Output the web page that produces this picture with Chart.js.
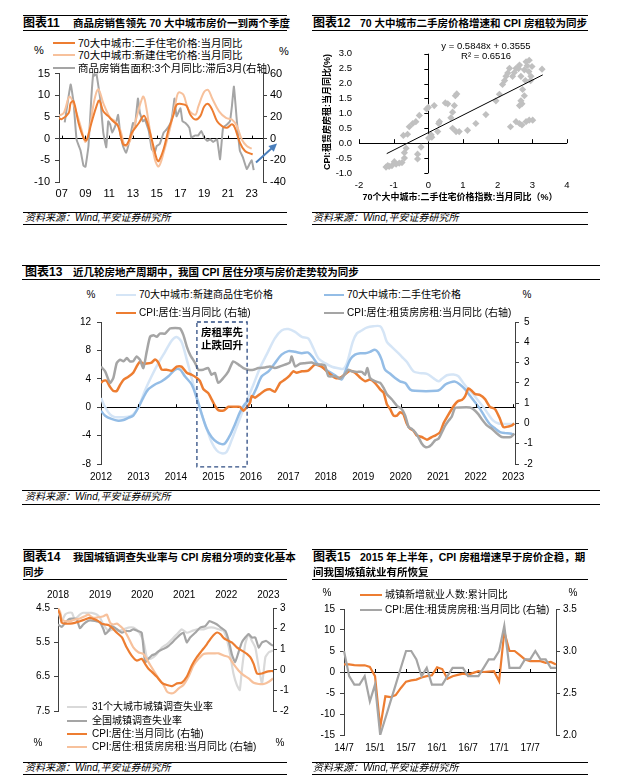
<!DOCTYPE html>
<html><head><meta charset="utf-8">
<script src="https://cdn.jsdelivr.net/npm/chart.js@4.4.1/dist/chart.umd.min.js"></script>
<style>
html,body{margin:0;padding:0;background:#fff}
body{position:relative;width:627px;height:782px;overflow:hidden;font-family:'Liberation Sans','Noto Sans CJK SC',sans-serif;color:#000}
canvas{position:absolute}
</style></head><body>
<script>
// ================= DATA =================
// Panel 11 (x = year-month, left axis % ; sales on right axis %)
const p11TickYears = [2007,2009,2011,2013,2015,2017,2019,2021,2023];
const p11TickLabels = ['07','09','11','13','15','17','19','21','23'];
const p11Names = ['70大中城市:二手住宅价格:当月同比','70大中城市:新建住宅价格:当月同比','商品房销售面积:3个月同比:滞后3月(右轴)'];
const p11Used = [['2006-10',4.8],['2007-01',4.5],['2007-08',5.9],['2007-10',8.2],['2008-01',8.6],['2008-06',3.6],['2008-11',0.2],['2009-02',-0.4],['2009-07',3.6],['2009-12',7.4],['2010-03',8.8],['2010-07',6.3],['2010-12',5.2],['2011-05',4.0],['2011-10',2.9],['2012-03',-1.3],['2012-07',-1.3],['2012-12',1.4],['2013-07',3.6],['2013-12',5.3],['2014-03',4.0],['2014-08',-0.2],['2015-01',-4.7],['2015-03',-5.2],['2015-08',-2.4],['2016-01',2.1],['2016-06',5.5],['2016-09',7.8],['2017-02',8.0],['2017-07',7.6],['2017-11',5.5],['2018-04',4.4],['2018-09',5.2],['2019-01',7.4],['2019-05',8.0],['2019-09',6.7],['2020-02',4.0],['2020-07',2.9],['2020-12',2.5],['2021-05',3.3],['2021-08',2.5],['2022-01',-0.9],['2022-06',-2.8],['2022-11',-3.4],['2023-02',-3.6]];
const p11New = [['2006-10',5.3],['2007-03',5.9],['2007-09',9.7],['2008-04',5.9],['2008-09',2.1],['2009-01',-0.8],['2009-05',2.1],['2009-10',8.9],['2010-02',11.4],['2010-07',8.2],['2011-02',4.8],['2011-07',4.0],['2011-12',2.1],['2012-05',-1.7],['2012-10',-0.5],['2013-05',5.2],['2013-11',9.7],['2014-01',8.9],['2014-06',2.1],['2014-11',-4.7],['2015-03',-6.4],['2015-08',-3.2],['2016-03',2.9],['2016-08',8.2],['2016-11',10.6],['2017-04',10.1],['2017-09',6.7],['2018-04',5.5],['2018-07',7.4],['2019-01',10.8],['2019-05',11.2],['2019-09',9.3],['2020-04',6.3],['2020-11',4.8],['2021-05',4.4],['2021-10',2.9],['2022-03',-0.2],['2022-08',-1.7],['2023-01',-2.3]];
const p11Sales = [['2007-04',15],['2007-10',50],['2008-01',33],['2008-04',-1],['2008-08',-11],['2008-11',-25],['2009-01',-26],['2009-04',-7],['2009-07',39],['2009-09',61],['2009-10',58],['2009-12',60],['2010-04',36],['2010-07',5.5],['2010-10',-8],['2010-12',16],['2011-02',13],['2011-04',5.5],['2011-07',11.5],['2011-10',22],['2011-12',5.5],['2012-03',-7],['2012-06',-13],['2012-09',-3.6],['2013-01',14.5],['2013-03',11.5],['2013-06',37],['2013-08',23.6],['2013-11',16],['2014-01',17.6],['2014-05',7],['2014-08',-9.7],['2014-11',-13],['2015-01',-6.7],['2015-04',-5],['2015-08',5.5],['2015-11',8.5],['2016-03',14.5],['2016-05',23.6],['2016-07',37],['2016-09',20.6],['2017-01',28],['2017-03',16],['2017-06',14.5],['2017-10',10],['2017-12',1],['2018-04',3],['2018-07',3],['2018-10',7],['2019-01',1],['2019-04',-2],['2019-07',-0.6],['2019-10',-3],['2020-02',-0.6],['2020-05',-19],['2020-08',10],['2020-12',13],['2021-03',16],['2021-05',30],['2021-07',48],['2021-10',16],['2022-01',-11],['2022-04',-17],['2022-08',-28],['2022-11',-23],['2023-01',-20],['2023-03',-29]];
const p11Arrow = [[2023.36,-22],[2025.13,-4.5]];

// Panel 12 scatter (x: 70城二手房价同比 %, y: CPI 房租同比 %)
const p12Points = [[-1.22,-0.80],[-1.17,-0.75],[-1.13,-0.78],[-1.05,-0.75],[-0.98,-0.62],[-0.93,-0.70],[-0.84,-0.67],[-0.76,-0.65],[-0.69,-0.50],[-0.69,-0.32],[-0.64,-0.17],[-0.72,0.26],[-0.60,0.30],[-0.55,0.55],[-0.45,0.66],[-0.36,0.72],[-0.26,0.93],[-0.31,-0.37],[-0.31,-0.53],[-0.21,-0.13],[-0.05,1.15],[0.00,1.20],[0.01,0.17],[0.08,0.28],[0.10,0.20],[0.17,1.26],[0.27,0.39],[0.30,0.66],[0.32,0.72],[0.49,1.35],[0.56,1.32],[0.65,0.85],[0.70,1.04],[0.75,1.26],[0.78,1.59],[0.82,1.65],[0.70,0.50],[0.80,0.39],[0.89,0.39],[1.13,0.43],[1.37,0.66],[1.66,0.96],[1.95,1.42],[2.05,1.64],[2.14,1.97],[2.20,2.10],[2.24,2.24],[2.29,2.35],[2.34,2.51],[2.43,2.24],[2.48,2.37],[2.53,2.51],[2.60,2.50],[2.63,2.62],[2.67,2.24],[2.77,2.46],[2.82,2.73],[2.85,2.60],[2.91,2.78],[2.90,2.40],[2.99,2.57],[2.96,2.24],[2.95,2.10],[2.80,2.10],[3.28,2.48],[2.72,1.80],[2.77,1.59],[2.67,1.42],[2.63,1.26],[2.70,1.32],[2.37,0.55],[2.53,0.72],[2.63,0.66],[2.70,0.61],[2.82,0.72],[2.91,0.77],[3.01,0.77]];
const p12Trend = [[-1.2,-0.35],[3.3,2.29]];
const p12Equation = ['y = 0.5848x + 0.3555','R² = 0.6516'];

// Panel 13 (x = decimal year)
const p13Years = [2012,2013,2014,2015,2016,2017,2018,2019,2020,2021,2022,2023];
const p13YearLabels = ['2012','2013','2014','2015','2016','2017','2018','2019','2020','2021','2022','2023'];
const p13Names = ['70大中城市:新建商品住宅价格','70大中城市:二手住宅价格','CPI:居住:当月同比 (右轴)','CPI:居住:租赁房房租:当月同比 (右轴)'];
const p13New = [[2012.00,1.3],[2012.11,0],[2012.24,-1.0],[2012.37,-1.4],[2012.55,-1.4],[2012.73,-1.35],[2012.86,-1.0],[2013.00,0],[2013.17,2.3],[2013.35,4.35],[2013.53,6.2],[2013.71,7.8],[2013.89,9.4],[2014.02,9.9],[2014.15,9.2],[2014.29,6.7],[2014.42,4.1],[2014.55,1.6],[2014.69,-1.0],[2014.82,-3.0],[2014.95,-4.9],[2015.09,-6.1],[2015.22,-6.5],[2015.35,-6.3],[2015.49,-4.6],[2015.62,-2.8],[2015.75,-1.0],[2015.89,0.9],[2016.07,3.2],[2016.24,5.5],[2016.42,7.4],[2016.64,9.7],[2016.82,10.8],[2017.00,11.0],[2017.18,10.6],[2017.36,9.9],[2017.53,9.7],[2017.67,8.3],[2017.80,6.9],[2017.98,6.2],[2018.16,5.7],[2018.33,5.5],[2018.47,5.4],[2018.57,6.3],[2018.72,9.2],[2018.83,10.4],[2018.96,10.8],[2019.09,11.2],[2019.27,11.4],[2019.45,11.4],[2019.54,10.6],[2019.63,9.2],[2019.76,8.5],[2019.90,7.8],[2020.03,7.1],[2020.16,6.4],[2020.34,5.05],[2020.52,4.8],[2020.70,4.7],[2020.87,4.1],[2021.01,3.65],[2021.10,4.0],[2021.23,4.5],[2021.41,4.6],[2021.54,4.35],[2021.67,3.4],[2021.81,2.5],[2021.94,1.8],[2022.07,0.9],[2022.21,0],[2022.34,-1.0],[2022.47,-1.9],[2022.61,-2.3],[2022.74,-2.35],[2022.88,-2.35],[2023.03,-2.35]];
const p13Used = [[2012.00,-0.5],[2012.11,-1.2],[2012.28,-1.65],[2012.46,-1.9],[2012.60,-1.8],[2012.73,-1.5],[2012.86,-1.2],[2013.00,0],[2013.13,1.35],[2013.26,2.5],[2013.44,3.2],[2013.62,3.65],[2013.80,4.35],[2013.98,5.3],[2014.11,5.3],[2014.24,4.35],[2014.42,3.2],[2014.55,1.35],[2014.69,-1.0],[2014.82,-3.0],[2014.95,-4.2],[2015.09,-4.9],[2015.22,-5.2],[2015.31,-5.1],[2015.44,-4.0],[2015.58,-2.35],[2015.71,-0.7],[2015.84,0.43],[2016.02,1.35],[2016.15,2.7],[2016.29,4.35],[2016.47,5.05],[2016.64,6.2],[2016.82,7.4],[2017.00,7.9],[2017.18,7.8],[2017.36,7.6],[2017.53,7.7],[2017.67,6.9],[2017.76,6.2],[2017.89,5.7],[2018.07,5.05],[2018.25,4.5],[2018.42,3.9],[2018.52,5.05],[2018.65,6.7],[2018.78,7.4],[2018.92,7.6],[2019.05,7.6],[2019.18,7.8],[2019.31,8.1],[2019.40,7.7],[2019.49,6.7],[2019.58,5.3],[2019.72,4.7],[2019.85,4.1],[2019.98,3.65],[2020.12,3.4],[2020.25,2.5],[2020.38,2.3],[2020.96,2.3],[2021.05,2.5],[2021.19,3.2],[2021.32,3.5],[2021.45,3.6],[2021.58,3.2],[2021.72,2.5],[2021.85,1.6],[2021.99,0.65],[2022.12,-0.27],[2022.25,-1.4],[2022.38,-2.4],[2022.52,-3.0],[2022.65,-3.5],[2022.79,-3.65],[2022.92,-3.7],[2023.03,-3.9]];
const p13Cpi = [[2012.00,2.0],[2012.06,2.1],[2012.15,2.1],[2012.24,1.8],[2012.33,1.6],[2012.42,1.6],[2012.51,1.9],[2012.60,2.15],[2012.73,2.3],[2012.86,2.5],[2012.95,2.8],[2013.04,3.05],[2013.13,2.95],[2013.22,2.95],[2013.35,3.0],[2013.44,3.15],[2013.53,3.0],[2013.62,2.65],[2013.75,2.65],[2013.89,2.6],[2014.02,2.8],[2014.15,2.8],[2014.29,2.5],[2014.42,2.4],[2014.55,2.25],[2014.64,2.1],[2014.73,1.7],[2014.86,1.5],[2014.95,1.2],[2015.04,0.87],[2015.13,0.66],[2015.27,0.63],[2015.40,0.82],[2015.58,0.82],[2015.71,0.82],[2015.80,0.63],[2015.89,0.79],[2015.98,1.03],[2016.02,1.35],[2016.11,1.27],[2016.24,1.44],[2016.38,1.63],[2016.51,1.68],[2016.64,1.56],[2016.78,2.0],[2016.91,2.16],[2017.04,2.37],[2017.13,2.57],[2017.22,2.5],[2017.36,2.57],[2017.53,2.6],[2017.71,2.9],[2017.89,2.8],[2018.07,2.5],[2018.25,2.25],[2018.38,2.25],[2018.52,2.44],[2018.65,2.6],[2018.78,2.5],[2018.92,2.25],[2019.05,2.08],[2019.18,2.16],[2019.31,2.0],[2019.45,1.68],[2019.54,1.52],[2019.63,0.95],[2019.72,0.7],[2019.81,0.38],[2019.90,0.38],[2019.98,0.55],[2020.07,0.46],[2020.16,0],[2020.25,-0.26],[2020.34,-0.35],[2020.43,-0.6],[2020.56,-0.67],[2020.70,-0.8],[2020.83,-0.67],[2020.92,-0.6],[2021.05,-0.43],[2021.14,0],[2021.23,0.3],[2021.36,0.7],[2021.45,0.95],[2021.54,1.11],[2021.63,1.15],[2021.72,1.35],[2021.81,1.73],[2021.90,1.6],[2021.99,1.44],[2022.12,1.4],[2022.25,1.2],[2022.38,0.82],[2022.52,0.7],[2022.65,0.22],[2022.74,-0.18],[2022.88,-0.15],[2022.97,-0.1],[2023.03,0]];
const p13Rent = [[2012.00,2.8],[2012.11,2.57],[2012.24,2.0],[2012.33,2.25],[2012.42,2.98],[2012.51,3.14],[2012.60,3.06],[2012.69,3.22],[2012.77,3.06],[2012.86,3.06],[2012.95,3.3],[2013.04,3.14],[2013.13,2.73],[2013.22,3.54],[2013.31,4.27],[2013.40,4.35],[2013.49,4.27],[2013.57,4.43],[2013.71,4.43],[2013.84,4.68],[2013.98,4.71],[2014.11,4.68],[2014.20,4.35],[2014.29,3.79],[2014.38,3.38],[2014.51,2.98],[2014.60,2.65],[2014.73,2.65],[2014.86,2.73],[2014.95,2.4],[2015.04,2.49],[2015.13,2.0],[2015.27,2.25],[2015.40,2.57],[2015.53,3.06],[2015.67,2.9],[2015.80,2.73],[2015.93,2.65],[2016.07,2.65],[2016.20,2.73],[2016.38,2.76],[2016.51,2.81],[2016.64,2.73],[2016.78,2.81],[2016.91,2.9],[2017.04,3.0],[2017.09,3.3],[2017.18,2.81],[2017.31,2.94],[2017.44,2.97],[2017.62,3.0],[2017.76,2.9],[2017.89,2.9],[2017.98,2.85],[2018.07,2.33],[2018.25,2.33],[2018.38,2.21],[2018.52,2.44],[2018.60,2.65],[2018.69,2.57],[2018.83,2.54],[2018.96,2.54],[2019.05,2.4],[2019.11,2.73],[2019.18,2.25],[2019.31,2.08],[2019.45,2.0],[2019.54,1.76],[2019.63,1.44],[2019.76,1.19],[2019.90,0.87],[2020.03,0.7],[2020.12,0.38],[2020.21,-0.18],[2020.29,-0.26],[2020.38,-0.42],[2020.47,-0.67],[2020.56,-0.99],[2020.65,-1.16],[2020.74,-1.16],[2020.83,-1.03],[2020.92,-0.83],[2021.01,-0.75],[2021.10,-0.43],[2021.19,-0.1],[2021.28,0.14],[2021.36,0.33],[2021.45,0.76],[2021.58,0.79],[2021.85,0.79],[2021.94,0.7],[2022.07,0.46],[2022.16,0.22],[2022.30,-0.1],[2022.43,-0.26],[2022.56,-0.48],[2022.70,-0.67],[2022.94,-0.67],[2023.03,-0.5]];
const p13Box = [2014.56, 2015.90];
const p13BoxText = ['房租率先','止跌回升'];

// Panel 14 (x = decimal year, left axis reversed %)
const p14Years = [2018,2019,2020,2021,2022,2023];
const p14YearLabels = ['2018','2019','2020','2021','2022','2023'];
const p14LeftTicks = [4.5,5.5,6.5,7.5];
const p14Names = ['31个大城市城镇调查失业率','全国城镇调查失业率','CPI:居住:当月同比 (右轴)','CPI:居住:租赁房房租:当月同比 (右轴)'];
const p14City = [[2018.00,4.6],[2018.09,4.88],[2018.17,4.69],[2018.25,4.64],[2018.33,4.64],[2018.40,4.83],[2018.52,4.69],[2018.60,4.64],[2018.68,4.64],[2018.80,4.64],[2018.92,4.69],[2019.00,4.79],[2019.08,4.98],[2019.20,5.17],[2019.32,5.12],[2019.44,5.17],[2019.56,5.12],[2019.67,5.07],[2019.79,5.07],[2019.91,5.17],[2020.03,5.46],[2020.11,5.93],[2020.19,5.98],[2020.27,5.93],[2020.35,5.84],[2020.47,5.65],[2020.59,5.55],[2020.71,5.41],[2020.83,5.26],[2020.94,5.12],[2021.06,5.22],[2021.18,5.17],[2021.30,5.12],[2021.46,5.12],[2021.58,5.07],[2021.70,5.07],[2021.82,5.12],[2021.94,5.17],[2022.06,5.65],[2022.17,6.41],[2022.25,6.74],[2022.32,6.89],[2022.37,6.31],[2022.45,5.55],[2022.53,5.26],[2022.61,5.46],[2022.69,5.65],[2022.77,6.22],[2022.85,6.7],[2022.93,5.93],[2023.01,5.79],[2023.11,5.74]];
const p14Nat = [[2018.00,4.98],[2018.09,5.05],[2018.17,4.93],[2018.25,4.83],[2018.33,4.81],[2018.44,4.81],[2018.52,5.09],[2018.60,4.98],[2018.68,4.9],[2018.76,4.86],[2018.88,4.88],[2019.00,4.93],[2019.08,5.12],[2019.12,5.26],[2019.20,5.17],[2019.28,5.03],[2019.40,5.12],[2019.52,5.22],[2019.60,5.17],[2019.71,5.17],[2019.79,5.12],[2019.89,5.17],[2019.99,5.22],[2020.07,6.08],[2020.15,5.98],[2020.23,5.88],[2020.31,5.84],[2020.39,5.76],[2020.51,5.69],[2020.63,5.6],[2020.75,5.46],[2020.87,5.31],[2020.98,5.22],[2021.06,5.5],[2021.14,5.36],[2021.26,5.22],[2021.38,5.07],[2021.50,5.03],[2021.60,4.88],[2021.70,4.93],[2021.78,4.98],[2021.87,5.07],[2021.98,5.17],[2022.06,5.46],[2022.13,5.84],[2022.21,6.08],[2022.29,5.79],[2022.37,5.5],[2022.45,5.36],[2022.53,5.26],[2022.61,5.36],[2022.69,5.36],[2022.77,5.65],[2022.85,5.5],[2022.95,5.46],[2023.05,5.55],[2023.11,5.6]];
const p14Cpi = [[2018.00,2.92],[2018.05,2.68],[2018.09,2.28],[2018.17,2.24],[2018.29,2.24],[2018.40,2.28],[2018.52,2.36],[2018.64,2.44],[2018.76,2.52],[2018.88,2.44],[2018.96,2.36],[2019.04,2.24],[2019.12,2.2],[2019.20,2.17],[2019.28,2.04],[2019.40,1.8],[2019.52,1.57],[2019.63,1.09],[2019.75,0.69],[2019.87,0.45],[2019.99,0.53],[2020.07,0.29],[2020.15,0.05],[2020.23,-0.1],[2020.35,-0.34],[2020.47,-0.63],[2020.59,-0.74],[2020.71,-0.79],[2020.83,-0.66],[2020.94,-0.63],[2021.06,-0.34],[2021.18,0.21],[2021.30,0.61],[2021.42,0.93],[2021.54,1.25],[2021.62,1.49],[2021.70,1.69],[2021.78,1.81],[2021.86,1.73],[2021.94,1.54],[2022.02,1.44],[2022.13,1.33],[2022.25,1.09],[2022.37,0.93],[2022.49,0.77],[2022.57,0.61],[2022.65,0.29],[2022.73,-0.18],[2022.85,-0.18],[2022.95,-0.1],[2023.05,-0.06],[2023.11,-0.06]];
const p14Rent = [[2018.00,3.0],[2018.05,2.81],[2018.09,2.44],[2018.17,2.36],[2018.29,2.36],[2018.40,2.44],[2018.52,2.49],[2018.64,2.6],[2018.72,2.68],[2018.84,2.52],[2018.96,2.55],[2019.08,2.6],[2019.16,2.68],[2019.24,2.28],[2019.32,2.2],[2019.40,2.24],[2019.48,2.12],[2019.56,1.96],[2019.67,1.57],[2019.79,1.09],[2019.91,0.85],[2020.03,0.77],[2020.15,0.37],[2020.27,-0.03],[2020.39,-0.42],[2020.51,-0.74],[2020.59,-1.06],[2020.67,-1.14],[2020.76,-1.11],[2020.87,-0.9],[2020.98,-0.74],[2021.10,-0.34],[2021.22,0.21],[2021.34,0.53],[2021.46,0.77],[2021.58,0.8],[2021.70,0.8],[2021.82,0.8],[2021.94,0.69],[2022.06,0.61],[2022.17,0.29],[2022.29,-0.03],[2022.41,-0.26],[2022.53,-0.42],[2022.65,-0.63],[2022.77,-0.69],[2022.89,-0.69],[2023.01,-0.58],[2023.11,-0.42]];

// Panel 15 (monthly categories 2014/7 - 2017/12)
const p15Months = ['14/7','14/8','14/9','14/10','14/11','14/12','15/1','15/2','15/3','15/4','15/5','15/6','15/7','15/8','15/9','15/10','15/11','15/12','16/1','16/2','16/3','16/4','16/5','16/6','16/7','16/8','16/9','16/10','16/11','16/12','17/1','17/2','17/3','17/4','17/5','17/6','17/7','17/8','17/9','17/10','17/11','17/12'];
const p15Names = ['城镇新增就业人数:累计同比','CPI:居住:租赁房房租:当月同比 (右轴)'];
const p15Emp = [1.8,1.8,1.65,1.6,1.6,1.2,-1.0,-13.2,-5.8,-6.0,-5.5,-3.8,-2.3,-2.0,-1.8,-1.3,-1.0,-0.8,1.1,0.7,-1.6,-1.0,-0.7,-0.4,-0.6,-0.2,0.2,0,0.1,0.2,-2.2,9.6,5.0,5.0,4.0,3.0,2.6,2.6,2.6,2.2,2.4,1.8];
const p15Rent = [3.0,2.7,2.6,2.6,2.7,2.4,2.6,2.0,2.2,2.4,2.6,2.8,3.0,3.0,2.9,2.7,2.8,2.6,2.6,2.6,2.7,2.8,2.8,2.8,2.7,2.7,2.7,2.8,2.9,2.9,3.0,3.3,2.8,2.8,2.8,2.9,2.9,3.0,2.9,2.9,2.8,2.8];

// ================= HELPERS =================
const FONT = "'Liberation Sans','Noto Sans CJK SC',sans-serif";
Chart.defaults.font.family = FONT;
Chart.defaults.color = '#000';
Chart.defaults.animation = false;
Chart.defaults.plugins.legend.display = false;
Chart.defaults.plugins.tooltip.enabled = false;
Chart.defaults.elements.point.radius = 0;

const C_ORANGE = '#ED7D31', C_PEACH = '#F7C19C', C_GRAY = '#A5A5A5', C_LGRAY = '#D9D9D9';
const C_BLUE = '#94BDE6', C_LBLUE = '#D5E5F6';
const SRC = '资料来源：Wind,平安证券研究所';

function ym(s){ const [y,m] = s.split('-').map(Number); return y + (m-1)/12; }
function xy(arr, fx){ return arr.map(([x,y]) => ({x: fx ? fx(x) : x, y})); }

function tx(x, y, s, o = {}) {
  const d = document.createElement('div');
  d.textContent = s;
  const ax = o.a === 'c' ? '-50%' : (o.a === 'r' ? '-100%' : '0');
  d.style.cssText = `position:absolute;left:${x}px;top:${y}px;white-space:nowrap;line-height:1;` +
    `font-size:${o.fs||10}px;font-weight:${o.b?'bold':'normal'};font-style:${o.i?'italic':'normal'};` +
    `color:${o.c||'#000'};transform:translate(${o.rot?'-50%':ax},-50%)${o.rot?' rotate(-90deg)':''};z-index:2`;
  document.body.appendChild(d);
}
function hl(x1, x2, y, w = 1, c = '#000') {
  const d = document.createElement('div');
  d.style.cssText = `position:absolute;left:${x1}px;top:${y}px;width:${x2-x1}px;height:${w}px;background:${c}`;
  document.body.appendChild(d);
}
function sw(x1, x2, y, c, w = 2.5) { hl(x1, x2, y - w/2, w, c); }

function mk(L, T, R, B, m, config) {
  const x = L - m.lw, y = T - m.top, w = (R + m.rw) - x, h = (B + m.bottom) - y;
  const c = document.createElement('canvas');
  c.width = w; c.height = h;
  c.style.left = x + 'px'; c.style.top = y + 'px'; c.style.width = w + 'px'; c.style.height = h + 'px';
  document.body.appendChild(c);
  config.options = Object.assign({responsive:false, maintainAspectRatio:false, devicePixelRatio:1, animation:false}, config.options);
  return new Chart(c.getContext('2d'), config);
}
const zeroColor = c => (c.tick && c.tick.value === 0) ? '#000' : 'rgba(0,0,0,0)';
const AX = '#404040';

// ================= FRAMES & TEXT =================
[[23,287],[312,588]].forEach(([a,b]) => { hl(a,b,15); hl(a,b,30); hl(a,b,212); hl(a,b,224); });
hl(22,600,265); hl(22,600,279); hl(22,600,490); hl(22,600,504);
[[23,287],[312,588]].forEach(([a,b]) => { hl(a,b,549); hl(a,b,579); hl(a,b,762); hl(a,b,774); });

tx(23,23,'图表11',{fs:12,b:1}); tx(73,23,'商品房销售领先 70 大中城市房价一到两个季度',{fs:10.5,b:1});
tx(313,23,'图表12',{fs:12,b:1}); tx(360,23,'70 大中城市二手房价格增速和 CPI 房租较为同步',{fs:10.5,b:1});
tx(25,272,'图表13',{fs:12,b:1}); tx(73,272,'近几轮房地产周期中，我国 CPI 居住分项与房价走势较为同步',{fs:10.5,b:1});
tx(23,557,'图表14',{fs:12,b:1}); tx(73,557,'我国城镇调查失业率与 CPI 房租分项的变化基本',{fs:10.5,b:1}); tx(23,572,'同步',{fs:10.5,b:1});
tx(313,557,'图表15',{fs:12,b:1}); tx(360,557,'2015 年上半年，CPI 房租增速早于房价企稳，期',{fs:10.5,b:1}); tx(313,572,'间我国城镇就业有所恢复',{fs:10.5,b:1});
[[25,218],[313,218],[25,497],[25,768],[313,768]].forEach(([x,y]) => tx(x,y,SRC,{fs:10,i:1}));

// Panel 11 legend
tx(39,50,'%',{fs:11,a:'c'}); tx(284,51,'%',{fs:11,a:'c'});
[[C_ORANGE,43],[C_PEACH,55],[C_GRAY,68]].forEach(([c,y],i) => { sw(53,75,y,c); tx(78,y,p11Names[i],{fs:10.5}); });

// Panel 12 texts
tx(486,46,p12Equation[0],{fs:9.5,a:'c'}); tx(486,56,p12Equation[1],{fs:9.5,a:'c'});
tx(327,112,'CPI:租赁房房租:当月同比(%)',{fs:9,b:1,rot:1});
tx(460,197,'70个大中城市:二手住宅价格指数:当月同比（%）',{fs:9,b:1,a:'c'});

// Panel 13 legend
tx(91,295,'%',{fs:10,a:'c'}); tx(527,295,'%',{fs:10,a:'c'});
sw(116,136,295,C_LBLUE); tx(139,295,p13Names[0]);
sw(324,344,295,C_BLUE); tx(347,295,p13Names[1]);
sw(116,136,313,C_ORANGE); tx(139,313,p13Names[2]);
sw(324,344,313,C_GRAY); tx(347,313,p13Names[3]);
tx(222,332,p13BoxText[0],{fs:10.5,b:1,a:'c'}); tx(222,345,p13BoxText[1],{fs:10.5,b:1,a:'c'});

// Panel 14 legend
[[C_LGRAY,707],[C_GRAY,721],[C_ORANGE,734],[C_PEACH,747]].forEach(([c,y],i) => { sw(67,87,y,c); tx(92,y,p14Names[i]); });
tx(38,743,'%',{fs:10,a:'c'}); tx(280,743,'%',{fs:10,a:'c'});

// Panel 15 legend
tx(327,593,'%',{fs:10,a:'c'}); tx(573,593,'%',{fs:10,a:'c'});
sw(360,382,595,C_ORANGE); tx(385,595,p15Names[0]);
sw(360,382,610,C_GRAY); tx(385,610,p15Names[1]);

// ================= PANEL 11 =================
mk(59,72,263,182,{lw:40,rw:40,top:10,bottom:22},{
  type:'line',
  data:{datasets:[
    {data:xy(p11Used,ym), borderColor:C_ORANGE, borderWidth:2, tension:0.35, yAxisID:'y', order:0},
    {data:xy(p11New,ym), borderColor:C_PEACH, borderWidth:2, tension:0.35, yAxisID:'y', order:1},
    {data:xy(p11Sales,ym), borderColor:C_GRAY, borderWidth:2, tension:0.1, yAxisID:'y2', order:2}
  ]},
  options:{
    layout:{padding:{top:10}},
    scales:{
      x:{type:'linear', min:2006.77, max:2023.95, afterFit:s=>{s.height=22;},
         afterBuildTicks:s=>{s.ticks=p11TickYears.map(v=>({value:v}));},
         grid:{display:false, drawTicks:false}, border:{display:false},
         ticks:{padding:5, font:{size:11}, autoSkip:false, maxRotation:0, callback:(v,i)=>p11TickLabels[i]}},
      y:{position:'left', min:-10, max:15, afterFit:s=>{s.width=40;},
         ticks:{stepSize:5, padding:5, font:{size:11}},
         border:{color:AX}, grid:{color:zeroColor, tickColor:AX, tickLength:4}},
      y2:{position:'right', min:-40, max:60, afterFit:s=>{s.width=40;},
         ticks:{stepSize:20, padding:3, font:{size:11}},
         border:{color:AX}, grid:{drawOnChartArea:false, tickColor:AX, tickLength:4}}
    }
  },
  plugins:[{id:'p11extra', afterDatasetsDraw(ch){
    const c = ch.ctx, xs = ch.scales.x, ys = ch.scales.y, y2 = ch.scales.y2;
    c.save(); c.strokeStyle='#000'; c.lineWidth=1;
    const y0 = ys.getPixelForValue(0);
    p11TickYears.forEach(v=>{ const px = Math.round(xs.getPixelForValue(v))+0.5; c.beginPath(); c.moveTo(px,y0); c.lineTo(px,y0-3); c.stroke(); });
    const x1 = xs.getPixelForValue(p11Arrow[0][0]), yy1 = y2.getPixelForValue(p11Arrow[0][1]);
    const x2 = xs.getPixelForValue(p11Arrow[1][0]), yy2 = y2.getPixelForValue(p11Arrow[1][1]);
    const ang = Math.atan2(yy2-yy1, x2-x1);
    c.strokeStyle = '#4A7EBB'; c.fillStyle = '#4A7EBB'; c.lineWidth = 2;
    c.beginPath(); c.moveTo(x1,yy1); c.lineTo(x2-6*Math.cos(ang), yy2-6*Math.sin(ang)); c.stroke();
    c.beginPath(); c.moveTo(x2,yy2);
    c.lineTo(x2-8*Math.cos(ang)+4*Math.sin(ang), yy2-8*Math.sin(ang)-4*Math.cos(ang));
    c.lineTo(x2-8*Math.cos(ang)-4*Math.sin(ang), yy2-8*Math.sin(ang)+4*Math.cos(ang));
    c.closePath(); c.fill();
    c.restore();
  }}]
});

// ================= PANEL 12 =================
mk(359,51,567,173,{lw:45,rw:15,top:10,bottom:20},{
  type:'scatter',
  data:{datasets:[
    {type:'line', data:xy(p12Trend), borderColor:'#000', borderWidth:1, pointRadius:0, order:0},
    {type:'scatter', data:xy(p12Points), pointStyle:'rectRot', pointRadius:3.6, backgroundColor:'#C0C0C0', borderWidth:0, order:1}
  ]},
  options:{
    layout:{padding:{top:10, right:15}},
    scales:{
      x:{type:'linear', min:-2, max:4, afterFit:s=>{s.height=20;},
         ticks:{stepSize:1, padding:7, font:{size:9.5}},
         grid:{color:zeroColor, drawTicks:false}, border:{display:false}},
      y:{type:'linear', min:-1, max:3, afterFit:s=>{s.width=45;},
         ticks:{stepSize:0.5, padding:7, font:{size:9.5}, callback:v=>v.toFixed(1)},
         grid:{color:zeroColor, drawTicks:false}, border:{display:false}}
    }
  },
  plugins:[{id:'p12marks', afterDatasetsDraw(ch){
    const c = ch.ctx, xs = ch.scales.x, ys = ch.scales.y;
    const x0 = xs.getPixelForValue(0), y0 = ys.getPixelForValue(0);
    c.save(); c.strokeStyle='#000'; c.lineWidth=1;
    xs.ticks.forEach(t=>{ if (t.value===0) return; const px=Math.round(xs.getPixelForValue(t.value))+0.5; c.beginPath(); c.moveTo(px,y0); c.lineTo(px,y0-4); c.stroke(); });
    ys.ticks.forEach(t=>{ if (t.value===0) return; const py=Math.round(ys.getPixelForValue(t.value))+0.5; c.beginPath(); c.moveTo(x0,py); c.lineTo(x0-4,py); c.stroke(); });
    c.restore();
  }}]
});

// ================= PANEL 13 =================
mk(101,320,515,464,{lw:45,rw:40,top:10,bottom:22},{
  type:'line',
  data:{datasets:[
    {data:xy(p13New), borderColor:C_LBLUE, borderWidth:2.5, tension:0.3, yAxisID:'y', order:3},
    {data:xy(p13Used), borderColor:C_BLUE, borderWidth:2.5, tension:0.3, yAxisID:'y', order:2},
    {data:xy(p13Cpi), borderColor:C_ORANGE, borderWidth:2.5, tension:0.2, yAxisID:'y2', order:1},
    {data:xy(p13Rent), borderColor:C_GRAY, borderWidth:2.5, tension:0.2, yAxisID:'y2', order:0}
  ]},
  options:{
    layout:{padding:{top:10}},
    scales:{
      x:{type:'linear', min:2012, max:2023.05, afterFit:s=>{s.height=22;},
         afterBuildTicks:s=>{s.ticks=p13Years.map(v=>({value:v}));},
         grid:{display:false, drawTicks:false}, border:{display:false},
         ticks:{padding:7, font:{size:10}, autoSkip:false, maxRotation:0, callback:(v,i)=>p13YearLabels[i]}},
      y:{position:'left', min:-8, max:12, afterFit:s=>{s.width=45;},
         ticks:{stepSize:4, padding:6, font:{size:10}},
         border:{color:AX}, grid:{color:zeroColor, tickColor:AX, tickLength:4}},
      y2:{position:'right', min:-2, max:5, afterFit:s=>{s.width=40;},
         ticks:{stepSize:1, padding:5, font:{size:10}},
         border:{color:AX}, grid:{drawOnChartArea:false, tickColor:AX, tickLength:4}}
    }
  },
  plugins:[{id:'p13extra', afterDatasetsDraw(ch){
    const c = ch.ctx, xs = ch.scales.x, ys = ch.scales.y;
    const y0 = ys.getPixelForValue(0);
    c.save(); c.strokeStyle='#000'; c.lineWidth=1;
    p13Years.forEach(v=>{ const px=Math.round(xs.getPixelForValue(v))+0.5; c.beginPath(); c.moveTo(px,y0); c.lineTo(px,y0-3); c.stroke(); });
    const bx1 = xs.getPixelForValue(p13Box[0]), bx2 = xs.getPixelForValue(p13Box[1]);
    const by1 = ys.getPixelForValue(12), by2 = ys.getPixelForValue(-8.4);
    c.strokeStyle='#2E4C82'; c.lineWidth=1.3; c.setLineDash([4,3]);
    c.strokeRect(bx1, by1, bx2-bx1, by2-by1);
    c.restore();
  }}]
});

// ================= PANEL 14 =================
mk(58,608,273,713,{lw:40,rw:40,top:20,bottom:8},{
  type:'line',
  data:{datasets:[
    {data:xy(p14City), borderColor:C_LGRAY, borderWidth:2.2, tension:0.15, yAxisID:'y', order:3},
    {data:xy(p14Nat), borderColor:C_GRAY, borderWidth:2.2, tension:0.15, yAxisID:'y', order:2},
    {data:xy(p14Cpi), borderColor:C_ORANGE, borderWidth:2.2, tension:0.2, yAxisID:'y2', order:0},
    {data:xy(p14Rent), borderColor:C_PEACH, borderWidth:2.2, tension:0.2, yAxisID:'y2', order:1}
  ]},
  options:{
    layout:{padding:{bottom:8}},
    scales:{
      x:{type:'linear', position:'top', min:2018, max:2023.11, afterFit:s=>{s.height=20;},
         afterBuildTicks:s=>{s.ticks=p14Years.map(v=>({value:v}));},
         grid:{display:false, drawTicks:false}, border:{display:false},
         ticks:{padding:7, font:{size:10}, autoSkip:false, maxRotation:0, callback:(v,i)=>p14YearLabels[i]}},
      y:{position:'left', reverse:true, min:4.5, max:7.5, afterFit:s=>{s.width=40;},
         afterBuildTicks:s=>{s.ticks=p14LeftTicks.map(v=>({value:v}));},
         ticks:{padding:4, font:{size:10}, callback:v=>v.toFixed(1)},
         border:{color:AX}, grid:{drawOnChartArea:false, tickColor:AX, tickLength:4}},
      y2:{position:'right', min:-2, max:3, afterFit:s=>{s.width=40;},
         ticks:{stepSize:1, padding:3, font:{size:10}},
         border:{color:AX}, grid:{drawOnChartArea:false, tickColor:AX, tickLength:4}}
    }
  }
});

// ================= PANEL 15 =================
mk(344,608,556,735,{lw:40,rw:40,top:10,bottom:22},{
  type:'line',
  data:{labels:p15Months, datasets:[
    {data:p15Emp, borderColor:C_ORANGE, borderWidth:2.2, tension:0, yAxisID:'y', order:1},
    {data:p15Rent, borderColor:C_GRAY, borderWidth:2.2, tension:0, yAxisID:'y2', order:0}
  ]},
  options:{
    layout:{padding:{top:10}},
    scales:{
      x:{type:'category', offset:false, afterFit:s=>{s.height=22;},
         grid:{display:false, drawTicks:false}, border:{display:false},
         ticks:{padding:7, font:{size:10}, autoSkip:false, maxRotation:0, callback:(v,i)=> i%6===0 ? p15Months[i] : ''}},
      y:{position:'left', min:-15, max:15, afterFit:s=>{s.width=40;},
         ticks:{stepSize:5, padding:5, font:{size:10}},
         border:{color:AX}, grid:{color:zeroColor, tickColor:AX, tickLength:4}},
      y2:{position:'right', min:2, max:3.5, afterFit:s=>{s.width=40;},
         ticks:{stepSize:0.5, padding:3, font:{size:10}, callback:v=>v.toFixed(1)},
         border:{color:AX}, grid:{drawOnChartArea:false, tickColor:AX, tickLength:4}}
    }
  },
  plugins:[{id:'p15marks', afterDatasetsDraw(ch){
    const c = ch.ctx, xs = ch.scales.x, ys = ch.scales.y;
    const y0 = ys.getPixelForValue(0);
    c.save(); c.strokeStyle='#000'; c.lineWidth=1;
    p15Months.forEach((m,i)=>{ if (i%6!==0 || i===0) return; const px=Math.round(xs.getPixelForValue(i))+0.5; c.beginPath(); c.moveTo(px,y0); c.lineTo(px,y0-3); c.stroke(); });
    c.restore();
  }}]
});
</script>
</body></html>
